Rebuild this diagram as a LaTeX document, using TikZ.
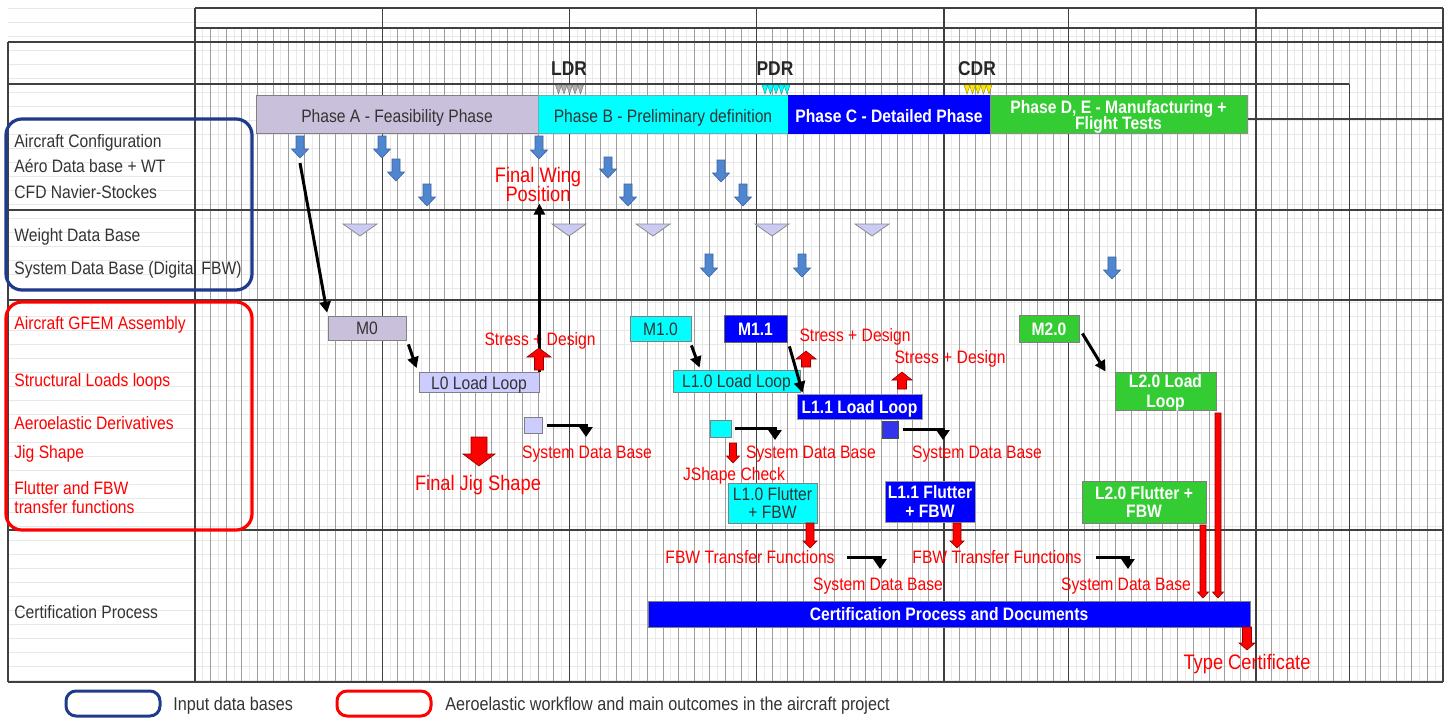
\documentclass[tikz,border=0pt]{standalone}
\usepackage{fontspec}
\setmainfont[FakeStretch=0.87]{Liberation Sans}
\usetikzlibrary{arrows.meta,calc}
\definecolor{txtgray}{HTML}{333333}
\definecolor{lavA}{HTML}{C9C0DB}
\definecolor{lavL}{HTML}{CCCCFF}
\definecolor{cyanB}{HTML}{00FFFF}
\definecolor{blueC}{HTML}{0000FF}
\definecolor{blueSq}{HTML}{3333EE}
\definecolor{greenD}{HTML}{33CC33}
\definecolor{arrBlue}{HTML}{4F86CF}
\definecolor{arrBlueD}{HTML}{3A64A0}
\definecolor{triLav}{HTML}{CACAF2}
\definecolor{navy}{HTML}{1F3B8C}
\definecolor{redR}{HTML}{FF0000}
\definecolor{yelM}{HTML}{FFE800}
\definecolor{grayM}{HTML}{B0B0B0}
\definecolor{grayMD}{HTML}{707070}
\definecolor{cyanMD}{HTML}{009999}
\definecolor{yelMD}{HTML}{998800}
\newcommand\fsz[1]{\fontsize{#1}{#1}\selectfont}
\newcommand\fszb[2]{\fontsize{#1}{#2}\selectfont\lineskiplimit=-10pt\relax}
% blue down arrow: x, ytop, ybot
\newcommand\bluearr[3]{\draw[fill=arrBlue, draw=arrBlueD, line width=0.3pt] ({#1-4},#2) -- ({#1+4},#2) -- ({#1+4},{#3-9}) -- ({#1+8.5},{#3-9}) -- (#1,#3) -- ({#1-8.5},{#3-9}) -- ({#1-4},{#3-9}) -- cycle;}
% red down arrow: x, ytop, ybot(tip), shaft half, head half, head length
\newcommand\redDown[6]{\draw[fill=redR, draw=red!55!black, line width=0.3pt] ({#1-#4},#2) -- ({#1+#4},#2) -- ({#1+#4},{#3-#6}) -- ({#1+#5},{#3-#6}) -- (#1,#3) -- ({#1-#5},{#3-#6}) -- ({#1-#4},{#3-#6}) -- cycle;}
% red up arrow: x, ytop(tip), ybot, shaft half, head half, head length
\newcommand\redUp[6]{\draw[fill=redR, draw=red!55!black, line width=0.3pt] ({#1-#4},#3) -- ({#1+#4},#3) -- ({#1+#4},{#2+#6}) -- ({#1+#5},{#2+#6}) -- (#1,#2) -- ({#1-#5},{#2+#6}) -- ({#1-#4},{#2+#6}) -- cycle;}
\newcommand\lavtri[1]{\draw[fill=triLav, draw=black!45, line width=0.4pt] ({#1-17},224) -- ({#1+17},224) -- (#1,236) -- cycle;}
\newcommand\milemark[3]{\foreach \k in {0,...,4}{\filldraw[fill=#2, draw=#3, line width=0.2pt] ({#1-14+5.5*\k},85) -- ({#1-14+5.5*\k+6},85) -- ({#1-14+5.5*\k+3},94) -- cycle;}}
\begin{document}
\begin{tikzpicture}[x=0.5pt,y=-0.5pt,
  gfaint/.style={draw=black!9, line width=0.4pt},
  gminor/.style={draw=black!38, line width=0.5pt},
  gmajor/.style={draw=black!75, line width=0.7pt},
  capc/.style={text height=6.5pt, text depth=0pt},
  lbl/.style={inner sep=0pt, anchor=west, text=txtgray, font=\fsz{9}, capc},
  rlbl/.style={inner sep=0pt, text=redR, font=\fsz{9}, capc},
  blbl/.style={inner sep=0pt, text=redR, font=\fsz{10.5}, text height=7.6pt, text depth=0pt},
  mblbl/.style={inner sep=0pt, text=redR, font=\fszb{10.5}{9.5}, align=center},
  box/.style={draw=black!50, line width=0.4pt, inner sep=0pt, font=\fsz{9}, align=center},
  dbox/.style={box, text=txtgray},
  wbox/.style={box, text=white, font=\bfseries\fsz{9}},
  phc/.style={text height=8.5pt, text depth=0pt},
  mlbl/.style={inner sep=0pt, text=black!85, font=\bfseries\fsz{10}, text height=7.2pt, text depth=0pt},
  barrowd/.style={line width=1.5pt, -{Triangle[length=5.5pt,width=5.5pt]}},
  bbent/.style={line width=1.5pt, -{Triangle[length=5pt,width=6.5pt]}}
]
\useasboundingbox (0,0) rectangle (1450,718);
% ---------- grid ----------
\foreach \j in {0,...,48} \draw[gfaint] (8,{8+14*\j}) -- (1443,{8+14*\j});
\foreach \i in {0,...,160} \draw[gfaint] ({195+7.8*\i},28) -- ({195+7.8*\i},682);
\foreach \i in {1,...,79} \draw[gminor] ({195+15.6*\i},28) -- ({195+15.6*\i},682);
\foreach \x in {195,382.2,569.4,756.6,943.8,1068.6,1255.8,1443} \draw[gmajor] (\x,8) -- (\x,682);
\draw[gmajor] (1349.4,84) -- (1349.4,682);
\draw[gmajor] (195,8) -- (1443,8);
\draw[gmajor] (195,28) -- (1443,28);
\draw[gmajor] (8,42) -- (1443,42);
\draw[gmajor] (8,84) -- (1349.4,84);
\draw[gmajor] (1247,119) -- (1443,119);
\draw[gmajor] (8,210) -- (1443,210);
\draw[gmajor] (8,300) -- (1443,300);
\draw[gmajor] (8,530) -- (1443,530);
\draw[gmajor] (8,682) -- (1443,682);
\draw[gmajor] (8,42) -- (8,682);
% ---------- group frames ----------
\draw[navy, line width=1.6pt, rounded corners=8pt] (6,119) rectangle (252,290);
\draw[redR, line width=1.6pt, rounded corners=8pt] (6,302) rectangle (252,530);
% ---------- left labels ----------
\node[lbl] (lcfg) at (14,141) {Aircraft Configuration};
\node[lbl] (laero) at (14,166) {Aéro Data base + WT};
\node[lbl] (lcfd) at (14,192) {CFD Navier-Stockes};
\node[lbl] (lwdb) at (14,235) {Weight Data Base};
\node[lbl] (lsdb) at (14,268) {System Data Base (Digital FBW)};
\node[lbl, text=redR] (lgfem) at (14,323) {Aircraft GFEM Assembly};
\node[lbl, text=redR] (lsll) at (14,380) {Structural Loads loops};
\node[lbl, text=redR] (laed) at (14,423) {Aeroelastic Derivatives};
\node[lbl, text=redR] (ljig) at (14,452) {Jig Shape};
\node[inner sep=0pt, anchor=west, text=redR, align=left, font=\fszb{9}{9.5}] (lflt) at (14,498) {Flutter and FBW\\transfer functions};
\node[lbl] (lcert) at (14,612) {Certification Process};
% ---------- milestones ----------
\node[mlbl] (ldr) at (569,68) {LDR};
\node[mlbl] (pdr) at (775,68) {PDR};
\node[mlbl] (cdr) at (977,68) {CDR};
\milemark{569.5}{grayM}{grayMD}
\milemark{776}{cyanB}{cyanMD}
\milemark{978}{yelM}{yelMD}
% ---------- phases ----------
\node[dbox, phc, fill=lavA, minimum width=141pt, minimum height=19pt] (phA) at (397,114) {Phase A - Feasibility Phase};
\node[dbox, phc, fill=cyanB, draw=teal!60, minimum width=125pt, minimum height=19pt] (phB) at (663,114) {Phase B - Preliminary definition};
\node[wbox, phc, fill=blueC, draw=blueC, minimum width=101pt, minimum height=19pt] (phC) at (889,114) {Phase C - Detailed Phase};
\node[box, fill=greenD, draw=black!45, minimum width=128.5pt, minimum height=19pt] (phD) at (1118.5,114) {};
\node[inner sep=0pt, text=white, align=center, font=\bfseries\fszb{9}{8}] (phDt) at (1118.5,117) {Phase D, E - Manufacturing +\\Flight Tests};
% ---------- input arrows ----------
\bluearr{300}{136}{158}
\bluearr{382}{136}{158}
\bluearr{396}{159}{181}
\bluearr{427}{184}{206}
\bluearr{539}{136}{159}
\bluearr{608}{157}{178}
\bluearr{628}{184}{206}
\bluearr{721}{160}{182}
\bluearr{743}{184}{206}
\bluearr{709}{254}{277}
\bluearr{802}{254}{277}
\bluearr{1112}{257}{279}
\lavtri{360}
\lavtri{569}
\lavtri{653}
\lavtri{772}
\lavtri{872}
% ---------- workflow boxes ----------
\node[dbox, capc, fill=lavA, minimum width=39pt, minimum height=12pt] (M0) at (367,328) {M0};
\node[dbox, capc, fill=lavL, minimum width=60pt, minimum height=10pt] (L0) at (479,382.5) {L0 Load Loop};
\node[box, fill=lavL, minimum width=9pt, minimum height=8pt] (sq0) at (533,425) {};
\node[dbox, capc, fill=cyanB, minimum width=30.5pt, minimum height=12.5pt] (M10) at (660.5,328.5) {M1.0};
\node[dbox, capc, fill=cyanB, minimum width=63.5pt, minimum height=11pt] (L10) at (736.5,381) {L1.0 Load Loop};
\node[wbox, capc, fill=blueC, draw=black!60, minimum width=31.5pt, minimum height=13.5pt] (M11) at (755.5,328.5) {M1.1};
\node[wbox, capc, fill=blueC, draw=black!40, minimum width=62.5pt, minimum height=12.5pt] (L11) at (859.5,406.5) {L1.1 Load Loop};
\node[box, fill=cyanB, minimum width=10.5pt, minimum height=8.5pt] (sq1) at (720.5,428.5) {};
\node[box, fill=blueSq, draw=black!70, minimum width=8pt, minimum height=8.5pt] (sq2) at (890,429.5) {};
\node[dbox, fill=cyanB, minimum width=44.5pt, minimum height=20pt, font=\fszb{9}{9}] (F10) at (772.5,503) {L1.0 Flutter\\+ FBW};
\node[wbox, fill=blueC, draw=black!40, minimum width=45pt, minimum height=20.5pt, font=\bfseries\fszb{9}{9.5}] (F11) at (930,501.5) {L1.1 Flutter\\+ FBW};
\node[wbox, capc, fill=greenD, minimum width=30pt, minimum height=13.5pt] (M20) at (1049,328.5) {M2.0};
\node[box, fill=greenD, minimum width=50.5pt, minimum height=19pt] (L20) at (1165.5,391) {};
\node[inner sep=0pt, text=white, align=center, font=\bfseries\fszb{9}{10}] (L20t) at (1165.5,392.5) {L2.0 Load\\Loop};
\node[wbox, fill=greenD, minimum width=62pt, minimum height=21pt, font=\bfseries\fszb{9}{9}] (F20) at (1144,502) {L2.0 Flutter +\\FBW};
\node[wbox, capc, fill=blueC, draw=black!50, minimum width=301pt, minimum height=13pt] (cert) at (949,614) {Certification Process and Documents};
% ---------- red labels ----------
\node[mblbl] (fwp) at (538,184) {Final Wing\\Position};
\node[rlbl] (sd0) at (540,339) {Stress + Design};
\node[rlbl] (sd1) at (855,335) {Stress + Design};
\node[rlbl] (sd2) at (950,357) {Stress + Design};
\node[rlbl] (sdb0) at (587,452) {System Data Base};
\node[rlbl] (sdb1) at (811,452) {System Data Base};
\node[rlbl] (sdb2) at (977,452) {System Data Base};
\node[blbl] (fjs) at (478,483) {Final Jig Shape};
\node[rlbl] (jsc) at (734,474) {JShape Check};
\node[rlbl] (fbw1) at (750,557) {FBW Transfer Functions};
\node[rlbl] (fbw2) at (997,557) {FBW Transfer Functions};
\node[rlbl] (sdb3) at (878,584) {System Data Base};
\node[rlbl] (sdb4) at (1126,584) {System Data Base};
\node[blbl] (tc) at (1247,662) {Type Certificate};
% ---------- black connectors ----------
\coordinate (c0) at (300,163);
\draw[barrowd, shorten >=1.5pt] (c0) -- (M0.north west);
\draw[barrowd] ([shift={(1pt,-2pt)}]M0.south east) -- ([shift={(-1pt,2pt)}]L0.north west);
\draw[barrowd, shorten >=1pt] (L0.north east) -- (L0.north east |- fwp.south);
\draw[barrowd] ([shift={(0pt,-2pt)}]M10.south east) -- ($(L10.north west)+(27,-2)$);
\draw[barrowd] ([shift={(1pt,-2pt)}]M11.south east) -- ($(L11.north west)+(6,-1)$);
\draw[barrowd] ([shift={(1.5pt,-2.5pt)}]M20.east) -- ($(L20.north west)+(-9,0)$);
\coordinate (e0) at (586,437);
\coordinate (e1) at (775,440);
\coordinate (e2) at (943,440);
\coordinate (e3) at (880,569);
\coordinate (e4) at (1128,569);
\draw[bbent] ([xshift=2.5pt]sq0.east) -| (e0);
\draw[bbent] ([xshift=2pt]sq1.east) -| (e1);
\draw[bbent] ([xshift=2.5pt]sq2.east) -| (e2);
\draw[bbent] ([xshift=6pt]fbw1.east) -| (e3);
\draw[bbent] ([xshift=7pt]fbw2.east) -| (e4);
% ---------- red block arrows ----------
\redUp{539}{348}{370}{4.5}{12}{9}
\redUp{806}{351}{367}{4.5}{10}{8}
\redUp{902}{372}{389}{4.5}{10}{8}
\redDown{479}{437}{466}{8}{16}{12}
\redDown{733}{443}{463}{3.5}{6.5}{7}
\redDown{810}{523}{548}{4}{7}{7}
\redDown{957}{523}{548}{4}{7}{7}
\redDown{1203}{525}{598}{3}{5.5}{6}
\redDown{1218}{413}{598}{3}{5.5}{6}
\redDown{1247}{627}{650}{4.5}{8}{7}
% ---------- legend ----------
\draw[navy, line width=1.5pt, rounded corners=5pt] (66,691) rectangle (160,716);
\node[lbl, font=\fsz{9.3}] (leg1) at (173,704) {Input data bases};
\draw[redR, line width=1.5pt, rounded corners=5pt] (337,691) rectangle (431,716);
\node[lbl, font=\fsz{9.3}] (leg2) at (445,704) {Aeroelastic workflow and main outcomes in the aircraft project};
\end{tikzpicture}
\end{document}
